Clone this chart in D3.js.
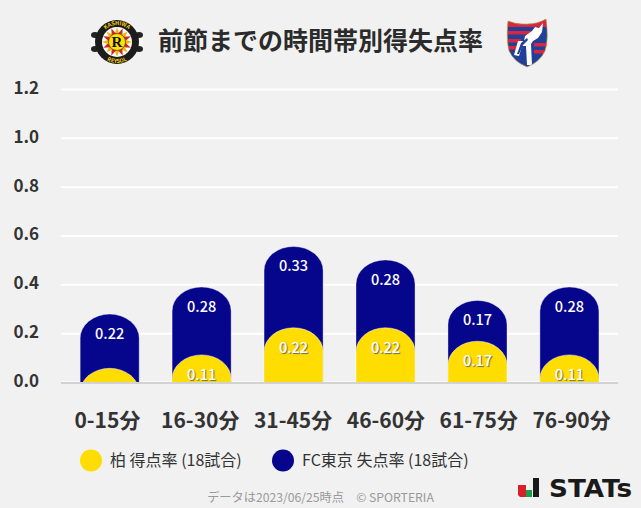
<!DOCTYPE html>
<html>
<head>
    <meta charset="utf-8">
    <title>前節までの時間帯別得失点率</title>
    <script src="https://cdn.jsdelivr.net/npm/d3@7"></script>
    <style>
        html, body { margin: 0; padding: 0; background: #f1f1f1; }
        svg { display: block; font-family: "Noto Sans CJK JP", "Noto Sans", sans-serif; }
        .tick text { fill: #333; font-weight: 700; }
        .val { fill: #fff; font-weight: 500; font-size: 14.5px; text-anchor: middle; dominant-baseline: central; }
        .val.on-yellow { text-shadow: 1px 1px 1px #666; }
    </style>
</head>
<body>
<svg></svg>
<script>
var periods = ['0-15分', '16-30分', '31-45分', '46-60分', '61-75分', '76-90分'];
var forRate = [0.056, 0.111, 0.222, 0.222, 0.167, 0.111];      // 柏 得点率
var againstRate = [0.222, 0.278, 0.333, 0.278, 0.167, 0.278];  // FC東京 失点率
var yTicks = [0, 0.2, 0.4, 0.6, 0.8, 1.0, 1.2];
var legendLabels = ['柏 得点率 (18試合)', 'FC東京 失点率 (18試合)'];
var seriesColors = ['#ffdd00', '#06068c'];

var w = 641, h = 508;
var svg = d3.select('svg').attr('width', w).attr('height', h).attr('viewBox', '0 0 ' + w + ' ' + h);

var x = d3.scaleBand().domain(periods).range([63.7, 615.4]).paddingInner(0.358).paddingOuter(0.179);
// the labels sit on a slightly wider step than the bars
var xLabels = d3.scaleBand().domain(periods).range([61, 618]);
var y = d3.scaleLinear().domain([0, 1.2]).range([382, 89]);

// title
svg.append('text').attr('x', 320.5).attr('y', 50).attr('text-anchor', 'middle')
    .attr('font-size', 25).attr('font-weight', 700).attr('fill', '#2b2b2b')
    .text('前節までの時間帯別得失点率');

// grid + y labels
var yAxis = d3.axisLeft(y).tickValues(yTicks).tickFormat(d3.format('.1f')).tickSize(-557).tickPadding(22);
var gy = svg.append('g').attr('transform', 'translate(61,0)').call(yAxis).attr('font-family', null);
gy.select('.domain').remove();
gy.selectAll('.tick line').attr('stroke', '#fff').attr('stroke-width', 2);
gy.selectAll('.tick text').attr('font-size', 17).attr('y', -1);

// rounded top, goes straight down to the base line and gets clipped there
function capsule(name, top) {
    var x0 = x(name), bw = x.bandwidth(), rx = bw / 2, ry = 24;
    return 'M' + x0 + ',' + (top + ry) +
        'A' + rx + ',' + ry + ' 0 0 1 ' + (x0 + bw) + ',' + (top + ry) +
        'V' + (y(0) + ry) + 'H' + x0 + 'Z';
}

svg.append('clipPath').attr('id', 'plot').append('rect')
    .attr('x', 0).attr('y', 0).attr('width', w).attr('height', y(0));

var bars = svg.append('g').attr('clip-path', 'url(#plot)');

bars.selectAll('.against').data(periods).enter().append('path')
    .attr('class', 'against')
    .attr('d', function (d, i) { return capsule(d, y(forRate[i] + againstRate[i])); })
    .attr('fill', seriesColors[1])
    .attr('stroke', '#fff').attr('stroke-opacity', 0.45).attr('stroke-width', 0.8);

bars.selectAll('.for').data(periods).enter().append('path')
    .attr('class', 'for')
    .attr('d', function (d, i) { return capsule(d, y(forRate[i])); })
    .attr('fill', seriesColors[0])
    .attr('stroke', '#fff').attr('stroke-opacity', 0.6).attr('stroke-width', 0.8);

// base line
svg.append('line').attr('x1', 61).attr('x2', 618).attr('y1', y(0) + 1).attr('y2', y(0) + 1)
    .attr('stroke', '#d2d2d2').attr('stroke-width', 2);

// value labels
var fmt = d3.format('.2f');
svg.selectAll('.val-a').data(periods).enter().append('text')
    .attr('class', 'val')
    .attr('x', function (d) { return x(d) + x.bandwidth() / 2; })
    .attr('y', function (d, i) { return y(forRate[i] + againstRate[i]) + 18.5; })
    .text(function (d, i) { return fmt(againstRate[i]); });

// the smallest yellow cap has no room for its label
svg.selectAll('.val-f').data(periods.filter(function (d, i) { return forRate[i] > 0.1; })).enter().append('text')
    .attr('class', 'val on-yellow')
    .attr('x', function (d) { return x(d) + x.bandwidth() / 2; })
    .attr('y', function (d) { return y(forRate[periods.indexOf(d)]) + 18.5; })
    .text(function (d) { return fmt(forRate[periods.indexOf(d)]); });

// x labels
var xAxis = d3.axisBottom(xLabels).tickSize(0).tickPadding(31);
var gx = svg.append('g').attr('transform', 'translate(0,' + y(0) + ')').call(xAxis).attr('font-family', null);
gx.select('.domain').remove();
gx.selectAll('.tick text').attr('font-size', 21);

// legend
var legendX = [91, 283], legendTextX = [110, 302];
legendLabels.forEach(function (t, i) {
    svg.append('circle').attr('cx', legendX[i]).attr('cy', 460.5).attr('r', 11).attr('fill', seriesColors[i]);
    svg.append('text').attr('x', legendTextX[i]).attr('y', 466).attr('font-size', 16).attr('fill', '#333').text(t);
});

// footer
svg.append('text').attr('x', 320.5).attr('y', 502).attr('text-anchor', 'middle')
    .attr('font-size', 12.2).attr('fill', '#999').text('データは2023/06/25時点　© SPORTERIA');

// STATs mark
var st = svg.append('g');
st.append('path').attr('d', 'M518,485h8v12h-6l-2,-2Z').attr('fill', '#d9202a');
st.append('rect').attr('x', 526).attr('y', 490).attr('width', 6).attr('height', 7).attr('fill', '#12a34a');
st.append('rect').attr('x', 533).attr('y', 478).attr('width', 6).attr('height', 19).attr('fill', '#1a1a1a');
st.append('text').attr('x', 549).attr('y', 497).attr('font-family', 'DejaVu Sans').attr('font-weight', 700)
    .attr('font-size', 24).attr('textLength', 83).attr('lengthAdjust', 'spacingAndGlyphs').attr('fill', '#1a1a1a').text('STATs');

// Kashiwa crest
var k = svg.append('g').attr('transform', 'translate(117,42)');
[-1, 1].forEach(function (s) {
    [-1, 1].forEach(function (v) {
        k.append('ellipse').attr('cx', s * 22).attr('cy', v * 7).attr('rx', 4).attr('ry', 3).attr('fill', '#222');
    });
    k.append('rect').attr('x', s > 0 ? 15 : -26).attr('y', -4).attr('width', 11).attr('height', 8).attr('fill', '#f6f6f6');
});
k.append('circle').attr('r', 22).attr('fill', '#1c1c1c');
k.append('circle').attr('r', 15).attr('fill', '#fff');
d3.range(16).forEach(function (i) {
    k.append('path').attr('d', 'M-2.4,-8L0,-15L2.4,-8Z')
        .attr('fill', i % 2 ? '#d8232a' : '#f2b600')
        .attr('transform', 'rotate(' + (i * 22.5) + ')');
});
k.append('circle').attr('r', 8.5).attr('fill', '#ffe100').attr('stroke', '#222').attr('stroke-width', 0.6);
k.append('text').attr('text-anchor', 'middle').attr('y', 5).attr('font-family', 'Liberation Serif')
    .attr('font-weight', 700).attr('font-size', 15).attr('fill', '#111').text('R');
k.append('path').attr('id', 'arcT').attr('d', 'M-17,0A17,17 0 0 1 17,0').attr('fill', 'none');
k.append('path').attr('id', 'arcB').attr('d', 'M-21,0A21,21 0 0 0 21,0').attr('fill', 'none');
k.append('text').attr('font-size', 5.5).attr('font-weight', 700).attr('fill', '#f5d000').attr('text-anchor', 'middle')
    .append('textPath').attr('href', '#arcT').attr('startOffset', '50%').text('KASHIWA');
k.append('text').attr('font-size', 5.5).attr('font-weight', 700).attr('fill', '#f5d000').attr('text-anchor', 'middle')
    .append('textPath').attr('href', '#arcB').attr('startOffset', '50%').text('REYSOL');

// FC Tokyo shield
var t = svg.append('g').attr('transform', 'translate(507,19)');
var outline = 'M1,2Q10,6 20,5Q31,5 39,0Q42,20 38,32Q33,43 20,48Q7,43 2,32Q-1,20 1,2Z';
t.append('clipPath').attr('id', 'shield').append('path').attr('d', outline);
var sh = t.append('g').attr('clip-path', 'url(#shield)');
sh.append('rect').attr('width', 41).attr('height', 50).attr('fill', '#20409a');
sh.append('rect').attr('x', 0).attr('y', 0).attr('width', 41).attr('height', 8).attr('fill', '#d7263d');
sh.append('rect').attr('x', 0).attr('y', 12).attr('width', 24).attr('height', 3.5).attr('fill', '#d7263d');
sh.append('rect').attr('x', 0).attr('y', 20).attr('width', 14).attr('height', 3.5).attr('fill', '#d7263d');
sh.append('rect').attr('x', 0).attr('y', 27).attr('width', 14).attr('height', 3.5).attr('fill', '#d7263d');
sh.append('rect').attr('x', 27).attr('y', 24).attr('width', 14).attr('height', 3.5).attr('fill', '#d7263d');
sh.append('rect').attr('x', 27).attr('y', 31).attr('width', 14).attr('height', 3.5).attr('fill', '#d7263d');
// city silhouette and the big stylised letters
sh.append('path').attr('d', 'M18,17L25,12L28,8L32,9L36,4L35,13L31,19L26,22L24,25L25,46L20,46L19,27L15,27L12,37L7,36L11,22L17,22Z').attr('fill', '#fff');
sh.append('path').attr('d', 'M14,24L20,19L21,21L16,26L12,35L10,35Z').attr('fill', '#20409a');
t.append('path').attr('d', outline).attr('fill', 'none').attr('stroke', '#c9a94a').attr('stroke-width', 0.7);
</script>
</body>
</html>
